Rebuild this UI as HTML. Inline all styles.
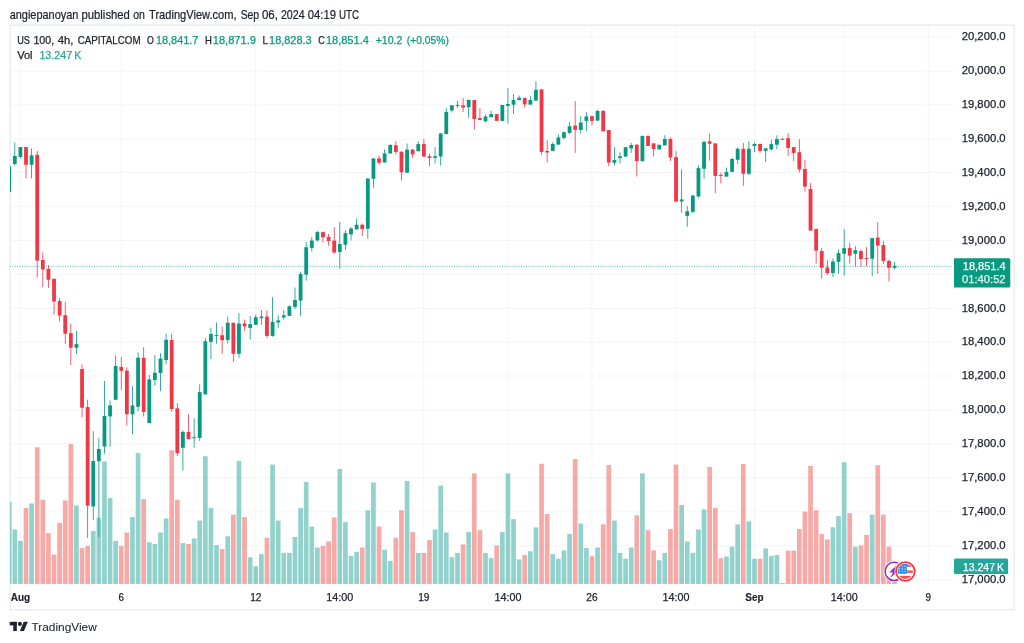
<!DOCTYPE html>
<html lang="en"><head><meta charset="utf-8"><title>US 100 chart - TradingView</title>
<style>html,body{margin:0;padding:0;background:#fff;}body{width:1024px;height:643px;overflow:hidden;font-family:"Liberation Sans", sans-serif;}svg{display:block;}text{font-family:"Liberation Sans", sans-serif;}</style>
</head><body>
<svg width="1024" height="643" viewBox="0 0 1024 643">
<rect x="0" y="0" width="1024" height="643" fill="#ffffff"/>
<text y="19.00" font-size="12.20"><tspan x="9.65" textLength="68.80" lengthAdjust="spacingAndGlyphs" fill="#20242f" stroke="#20242f" stroke-width="0.22">angiepanoyan</tspan> <tspan x="81.55" textLength="48.30" lengthAdjust="spacingAndGlyphs" fill="#20242f" stroke="#20242f" stroke-width="0.22">published</tspan> <tspan x="133.15" textLength="11.70" lengthAdjust="spacingAndGlyphs" fill="#20242f" stroke="#20242f" stroke-width="0.22">on</tspan> <tspan x="149.05" textLength="87.55" lengthAdjust="spacingAndGlyphs" fill="#20242f" stroke="#20242f" stroke-width="0.22">TradingView.com,</tspan> <tspan x="240.65" textLength="18.45" lengthAdjust="spacingAndGlyphs" fill="#20242f" stroke="#20242f" stroke-width="0.22">Sep</tspan> <tspan x="261.90" textLength="15.95" lengthAdjust="spacingAndGlyphs" fill="#20242f" stroke="#20242f" stroke-width="0.22">06,</tspan> <tspan x="280.90" textLength="23.85" lengthAdjust="spacingAndGlyphs" fill="#20242f" stroke="#20242f" stroke-width="0.22">2024</tspan> <tspan x="307.75" textLength="28.20" lengthAdjust="spacingAndGlyphs" fill="#20242f" stroke="#20242f" stroke-width="0.22">04:19</tspan> <tspan x="339.05" textLength="20.05" lengthAdjust="spacingAndGlyphs" fill="#20242f" stroke="#20242f" stroke-width="0.22">UTC</tspan></text>
<rect x="10.0" y="25.15" width="1004.1" height="584.75" fill="none" stroke="#E0E3EB" stroke-width="1"/>
<defs><clipPath id="pane"><rect x="10.0" y="26.0" width="943.2" height="558.2"/></clipPath></defs>
<g stroke="#F0F2F5" stroke-width="0.8" fill="none">
<line x1="10.0" y1="579.90" x2="953.2" y2="579.90"/>
<line x1="10.0" y1="545.80" x2="953.2" y2="545.80"/>
<line x1="10.0" y1="511.90" x2="953.2" y2="511.90"/>
<line x1="10.0" y1="477.70" x2="953.2" y2="477.70"/>
<line x1="10.0" y1="443.60" x2="953.2" y2="443.60"/>
<line x1="10.0" y1="410.00" x2="953.2" y2="410.00"/>
<line x1="10.0" y1="376.00" x2="953.2" y2="376.00"/>
<line x1="10.0" y1="342.10" x2="953.2" y2="342.10"/>
<line x1="10.0" y1="308.50" x2="953.2" y2="308.50"/>
<line x1="10.0" y1="274.30" x2="953.2" y2="274.30"/>
<line x1="10.0" y1="240.50" x2="953.2" y2="240.50"/>
<line x1="10.0" y1="206.30" x2="953.2" y2="206.30"/>
<line x1="10.0" y1="172.50" x2="953.2" y2="172.50"/>
<line x1="10.0" y1="139.10" x2="953.2" y2="139.10"/>
<line x1="10.0" y1="104.80" x2="953.2" y2="104.80"/>
<line x1="10.0" y1="71.20" x2="953.2" y2="71.20"/>
<line x1="10.0" y1="36.90" x2="953.2" y2="36.90"/>
<line x1="20.40" y1="26.0" x2="20.40" y2="584.2"/>
<line x1="121.27" y1="26.0" x2="121.27" y2="584.2"/>
<line x1="255.76" y1="26.0" x2="255.76" y2="584.2"/>
<line x1="339.81" y1="26.0" x2="339.81" y2="584.2"/>
<line x1="423.87" y1="26.0" x2="423.87" y2="584.2"/>
<line x1="507.93" y1="26.0" x2="507.93" y2="584.2"/>
<line x1="591.98" y1="26.0" x2="591.98" y2="584.2"/>
<line x1="676.04" y1="26.0" x2="676.04" y2="584.2"/>
<line x1="754.49" y1="26.0" x2="754.49" y2="584.2"/>
<line x1="844.15" y1="26.0" x2="844.15" y2="584.2"/>
<line x1="928.20" y1="26.0" x2="928.20" y2="584.2"/>
</g>
<g clip-path="url(#pane)">
<rect x="6.85" y="501.90" width="4.70" height="82.30" fill="rgba(38,166,154,0.5)"/>
<rect x="12.45" y="529.60" width="4.70" height="54.60" fill="rgba(38,166,154,0.5)"/>
<rect x="18.05" y="540.90" width="4.70" height="43.30" fill="rgba(38,166,154,0.5)"/>
<rect x="23.66" y="507.90" width="4.70" height="76.30" fill="rgba(239,83,80,0.5)"/>
<rect x="29.26" y="503.50" width="4.70" height="80.70" fill="rgba(38,166,154,0.5)"/>
<rect x="34.86" y="447.25" width="4.70" height="136.95" fill="rgba(239,83,80,0.5)"/>
<rect x="40.47" y="499.75" width="4.70" height="84.45" fill="rgba(239,83,80,0.5)"/>
<rect x="46.07" y="533.10" width="4.70" height="51.10" fill="rgba(239,83,80,0.5)"/>
<rect x="51.68" y="554.50" width="4.70" height="29.70" fill="rgba(239,83,80,0.5)"/>
<rect x="57.28" y="522.90" width="4.70" height="61.30" fill="rgba(239,83,80,0.5)"/>
<rect x="62.88" y="500.40" width="4.70" height="83.80" fill="rgba(239,83,80,0.5)"/>
<rect x="68.49" y="444.10" width="4.70" height="140.10" fill="rgba(239,83,80,0.5)"/>
<rect x="74.09" y="505.60" width="4.70" height="78.60" fill="rgba(38,166,154,0.5)"/>
<rect x="79.69" y="548.10" width="4.70" height="36.10" fill="rgba(239,83,80,0.5)"/>
<rect x="85.30" y="546.00" width="4.70" height="38.20" fill="rgba(239,83,80,0.5)"/>
<rect x="90.90" y="531.00" width="4.70" height="53.20" fill="rgba(38,166,154,0.5)"/>
<rect x="96.51" y="517.75" width="4.70" height="66.45" fill="rgba(38,166,154,0.5)"/>
<rect x="102.11" y="461.50" width="4.70" height="122.70" fill="rgba(38,166,154,0.5)"/>
<rect x="107.71" y="498.10" width="4.70" height="86.10" fill="rgba(38,166,154,0.5)"/>
<rect x="113.32" y="540.90" width="4.70" height="43.30" fill="rgba(38,166,154,0.5)"/>
<rect x="118.92" y="546.00" width="4.70" height="38.20" fill="rgba(239,83,80,0.5)"/>
<rect x="124.52" y="532.50" width="4.70" height="51.70" fill="rgba(239,83,80,0.5)"/>
<rect x="130.13" y="517.10" width="4.70" height="67.10" fill="rgba(38,166,154,0.5)"/>
<rect x="135.73" y="453.10" width="4.70" height="131.10" fill="rgba(38,166,154,0.5)"/>
<rect x="141.34" y="499.10" width="4.70" height="85.10" fill="rgba(239,83,80,0.5)"/>
<rect x="146.94" y="542.25" width="4.70" height="41.95" fill="rgba(38,166,154,0.5)"/>
<rect x="152.54" y="544.00" width="4.70" height="40.20" fill="rgba(38,166,154,0.5)"/>
<rect x="158.15" y="532.50" width="4.70" height="51.70" fill="rgba(38,166,154,0.5)"/>
<rect x="163.75" y="518.40" width="4.70" height="65.80" fill="rgba(38,166,154,0.5)"/>
<rect x="169.35" y="450.25" width="4.70" height="133.95" fill="rgba(239,83,80,0.5)"/>
<rect x="174.96" y="499.75" width="4.70" height="84.45" fill="rgba(239,83,80,0.5)"/>
<rect x="180.56" y="543.10" width="4.70" height="41.10" fill="rgba(38,166,154,0.5)"/>
<rect x="186.16" y="544.00" width="4.70" height="40.20" fill="rgba(239,83,80,0.5)"/>
<rect x="191.77" y="538.50" width="4.70" height="45.70" fill="rgba(38,166,154,0.5)"/>
<rect x="197.37" y="520.60" width="4.70" height="63.60" fill="rgba(38,166,154,0.5)"/>
<rect x="202.98" y="456.25" width="4.70" height="127.95" fill="rgba(38,166,154,0.5)"/>
<rect x="208.58" y="507.90" width="4.70" height="76.30" fill="rgba(38,166,154,0.5)"/>
<rect x="214.18" y="545.25" width="4.70" height="38.95" fill="rgba(38,166,154,0.5)"/>
<rect x="219.79" y="549.00" width="4.70" height="35.20" fill="rgba(239,83,80,0.5)"/>
<rect x="225.39" y="536.25" width="4.70" height="47.95" fill="rgba(38,166,154,0.5)"/>
<rect x="230.99" y="514.60" width="4.70" height="69.60" fill="rgba(239,83,80,0.5)"/>
<rect x="236.60" y="460.90" width="4.70" height="123.30" fill="rgba(38,166,154,0.5)"/>
<rect x="242.20" y="517.10" width="4.70" height="67.10" fill="rgba(239,83,80,0.5)"/>
<rect x="247.81" y="557.25" width="4.70" height="26.95" fill="rgba(38,166,154,0.5)"/>
<rect x="253.41" y="566.25" width="4.70" height="17.95" fill="rgba(38,166,154,0.5)"/>
<rect x="259.01" y="554.10" width="4.70" height="30.10" fill="rgba(38,166,154,0.5)"/>
<rect x="264.62" y="537.75" width="4.70" height="46.45" fill="rgba(239,83,80,0.5)"/>
<rect x="270.22" y="464.60" width="4.70" height="119.60" fill="rgba(38,166,154,0.5)"/>
<rect x="275.82" y="520.60" width="4.70" height="63.60" fill="rgba(38,166,154,0.5)"/>
<rect x="281.43" y="552.90" width="4.70" height="31.30" fill="rgba(38,166,154,0.5)"/>
<rect x="287.03" y="552.90" width="4.70" height="31.30" fill="rgba(38,166,154,0.5)"/>
<rect x="292.63" y="536.90" width="4.70" height="47.30" fill="rgba(38,166,154,0.5)"/>
<rect x="298.24" y="507.90" width="4.70" height="76.30" fill="rgba(38,166,154,0.5)"/>
<rect x="303.84" y="481.90" width="4.70" height="102.30" fill="rgba(38,166,154,0.5)"/>
<rect x="309.45" y="526.50" width="4.70" height="57.70" fill="rgba(38,166,154,0.5)"/>
<rect x="315.05" y="547.50" width="4.70" height="36.70" fill="rgba(38,166,154,0.5)"/>
<rect x="320.65" y="546.00" width="4.70" height="38.20" fill="rgba(239,83,80,0.5)"/>
<rect x="326.26" y="541.50" width="4.70" height="42.70" fill="rgba(239,83,80,0.5)"/>
<rect x="331.86" y="517.50" width="4.70" height="66.70" fill="rgba(239,83,80,0.5)"/>
<rect x="337.46" y="469.00" width="4.70" height="115.20" fill="rgba(38,166,154,0.5)"/>
<rect x="343.07" y="522.10" width="4.70" height="62.10" fill="rgba(38,166,154,0.5)"/>
<rect x="348.67" y="555.90" width="4.70" height="28.30" fill="rgba(38,166,154,0.5)"/>
<rect x="354.28" y="551.90" width="4.70" height="32.30" fill="rgba(38,166,154,0.5)"/>
<rect x="359.88" y="547.50" width="4.70" height="36.70" fill="rgba(239,83,80,0.5)"/>
<rect x="365.48" y="510.25" width="4.70" height="73.95" fill="rgba(38,166,154,0.5)"/>
<rect x="371.09" y="482.50" width="4.70" height="101.70" fill="rgba(38,166,154,0.5)"/>
<rect x="376.69" y="526.50" width="4.70" height="57.70" fill="rgba(239,83,80,0.5)"/>
<rect x="382.29" y="549.75" width="4.70" height="34.45" fill="rgba(38,166,154,0.5)"/>
<rect x="387.90" y="561.00" width="4.70" height="23.20" fill="rgba(38,166,154,0.5)"/>
<rect x="393.50" y="537.75" width="4.70" height="46.45" fill="rgba(239,83,80,0.5)"/>
<rect x="399.11" y="510.25" width="4.70" height="73.95" fill="rgba(239,83,80,0.5)"/>
<rect x="404.71" y="481.00" width="4.70" height="103.20" fill="rgba(38,166,154,0.5)"/>
<rect x="410.31" y="531.90" width="4.70" height="52.30" fill="rgba(239,83,80,0.5)"/>
<rect x="415.92" y="552.90" width="4.70" height="31.30" fill="rgba(38,166,154,0.5)"/>
<rect x="421.52" y="552.90" width="4.70" height="31.30" fill="rgba(239,83,80,0.5)"/>
<rect x="427.12" y="540.00" width="4.70" height="44.20" fill="rgba(239,83,80,0.5)"/>
<rect x="432.73" y="529.40" width="4.70" height="54.80" fill="rgba(38,166,154,0.5)"/>
<rect x="438.33" y="485.60" width="4.70" height="98.60" fill="rgba(38,166,154,0.5)"/>
<rect x="443.93" y="532.50" width="4.70" height="51.70" fill="rgba(38,166,154,0.5)"/>
<rect x="449.54" y="557.25" width="4.70" height="26.95" fill="rgba(38,166,154,0.5)"/>
<rect x="455.14" y="552.90" width="4.70" height="31.30" fill="rgba(38,166,154,0.5)"/>
<rect x="460.75" y="544.40" width="4.70" height="39.80" fill="rgba(239,83,80,0.5)"/>
<rect x="466.35" y="531.90" width="4.70" height="52.30" fill="rgba(38,166,154,0.5)"/>
<rect x="471.95" y="473.40" width="4.70" height="110.80" fill="rgba(239,83,80,0.5)"/>
<rect x="477.56" y="530.25" width="4.70" height="53.95" fill="rgba(239,83,80,0.5)"/>
<rect x="483.16" y="552.90" width="4.70" height="31.30" fill="rgba(38,166,154,0.5)"/>
<rect x="488.76" y="558.10" width="4.70" height="26.10" fill="rgba(38,166,154,0.5)"/>
<rect x="494.37" y="545.40" width="4.70" height="38.80" fill="rgba(239,83,80,0.5)"/>
<rect x="499.97" y="532.10" width="4.70" height="52.10" fill="rgba(38,166,154,0.5)"/>
<rect x="505.58" y="473.40" width="4.70" height="110.80" fill="rgba(38,166,154,0.5)"/>
<rect x="511.18" y="519.10" width="4.70" height="65.10" fill="rgba(38,166,154,0.5)"/>
<rect x="516.78" y="559.40" width="4.70" height="24.80" fill="rgba(38,166,154,0.5)"/>
<rect x="522.39" y="555.00" width="4.70" height="29.20" fill="rgba(239,83,80,0.5)"/>
<rect x="527.99" y="551.25" width="4.70" height="32.95" fill="rgba(38,166,154,0.5)"/>
<rect x="533.59" y="527.40" width="4.70" height="56.80" fill="rgba(38,166,154,0.5)"/>
<rect x="539.20" y="463.75" width="4.70" height="120.45" fill="rgba(239,83,80,0.5)"/>
<rect x="544.80" y="514.00" width="4.70" height="70.20" fill="rgba(239,83,80,0.5)"/>
<rect x="550.41" y="554.10" width="4.70" height="30.10" fill="rgba(38,166,154,0.5)"/>
<rect x="556.01" y="558.75" width="4.70" height="25.45" fill="rgba(38,166,154,0.5)"/>
<rect x="561.61" y="550.40" width="4.70" height="33.80" fill="rgba(38,166,154,0.5)"/>
<rect x="567.22" y="534.00" width="4.70" height="50.20" fill="rgba(38,166,154,0.5)"/>
<rect x="572.82" y="459.10" width="4.70" height="125.10" fill="rgba(239,83,80,0.5)"/>
<rect x="578.42" y="523.50" width="4.70" height="60.70" fill="rgba(38,166,154,0.5)"/>
<rect x="584.03" y="548.10" width="4.70" height="36.10" fill="rgba(38,166,154,0.5)"/>
<rect x="589.63" y="556.25" width="4.70" height="27.95" fill="rgba(239,83,80,0.5)"/>
<rect x="595.23" y="547.50" width="4.70" height="36.70" fill="rgba(38,166,154,0.5)"/>
<rect x="600.84" y="524.30" width="4.70" height="59.90" fill="rgba(239,83,80,0.5)"/>
<rect x="606.44" y="465.00" width="4.70" height="119.20" fill="rgba(239,83,80,0.5)"/>
<rect x="612.05" y="520.60" width="4.70" height="63.60" fill="rgba(38,166,154,0.5)"/>
<rect x="617.65" y="552.90" width="4.70" height="31.30" fill="rgba(38,166,154,0.5)"/>
<rect x="623.25" y="558.75" width="4.70" height="25.45" fill="rgba(38,166,154,0.5)"/>
<rect x="628.86" y="547.50" width="4.70" height="36.70" fill="rgba(38,166,154,0.5)"/>
<rect x="634.46" y="515.30" width="4.70" height="68.90" fill="rgba(239,83,80,0.5)"/>
<rect x="640.06" y="473.40" width="4.70" height="110.80" fill="rgba(38,166,154,0.5)"/>
<rect x="645.67" y="530.25" width="4.70" height="53.95" fill="rgba(239,83,80,0.5)"/>
<rect x="651.27" y="550.40" width="4.70" height="33.80" fill="rgba(239,83,80,0.5)"/>
<rect x="656.88" y="560.25" width="4.70" height="23.95" fill="rgba(38,166,154,0.5)"/>
<rect x="662.48" y="552.90" width="4.70" height="31.30" fill="rgba(38,166,154,0.5)"/>
<rect x="668.08" y="529.00" width="4.70" height="55.20" fill="rgba(239,83,80,0.5)"/>
<rect x="673.69" y="464.60" width="4.70" height="119.60" fill="rgba(239,83,80,0.5)"/>
<rect x="679.29" y="505.00" width="4.70" height="79.20" fill="rgba(38,166,154,0.5)"/>
<rect x="684.89" y="541.50" width="4.70" height="42.70" fill="rgba(38,166,154,0.5)"/>
<rect x="690.50" y="552.90" width="4.70" height="31.30" fill="rgba(38,166,154,0.5)"/>
<rect x="696.10" y="529.40" width="4.70" height="54.80" fill="rgba(38,166,154,0.5)"/>
<rect x="701.71" y="509.40" width="4.70" height="74.80" fill="rgba(38,166,154,0.5)"/>
<rect x="707.31" y="466.90" width="4.70" height="117.30" fill="rgba(239,83,80,0.5)"/>
<rect x="712.91" y="507.90" width="4.70" height="76.30" fill="rgba(239,83,80,0.5)"/>
<rect x="718.52" y="558.10" width="4.70" height="26.10" fill="rgba(239,83,80,0.5)"/>
<rect x="724.12" y="556.50" width="4.70" height="27.70" fill="rgba(38,166,154,0.5)"/>
<rect x="729.72" y="546.60" width="4.70" height="37.60" fill="rgba(38,166,154,0.5)"/>
<rect x="735.33" y="524.40" width="4.70" height="59.80" fill="rgba(38,166,154,0.5)"/>
<rect x="740.93" y="464.00" width="4.70" height="120.20" fill="rgba(239,83,80,0.5)"/>
<rect x="746.53" y="521.40" width="4.70" height="62.80" fill="rgba(38,166,154,0.5)"/>
<rect x="752.14" y="558.75" width="4.70" height="25.45" fill="rgba(38,166,154,0.5)"/>
<rect x="757.74" y="558.75" width="4.70" height="25.45" fill="rgba(239,83,80,0.5)"/>
<rect x="763.35" y="548.40" width="4.70" height="35.80" fill="rgba(38,166,154,0.5)"/>
<rect x="768.95" y="556.00" width="4.70" height="28.20" fill="rgba(38,166,154,0.5)"/>
<rect x="774.55" y="555.00" width="4.70" height="29.20" fill="rgba(38,166,154,0.5)"/>
<rect x="780.16" y="583.00" width="4.70" height="1.20" fill="rgba(239,83,80,0.5)"/>
<rect x="785.76" y="550.60" width="4.70" height="33.60" fill="rgba(239,83,80,0.5)"/>
<rect x="791.36" y="550.60" width="4.70" height="33.60" fill="rgba(239,83,80,0.5)"/>
<rect x="796.97" y="529.00" width="4.70" height="55.20" fill="rgba(239,83,80,0.5)"/>
<rect x="802.57" y="511.60" width="4.70" height="72.60" fill="rgba(239,83,80,0.5)"/>
<rect x="808.18" y="466.00" width="4.70" height="118.20" fill="rgba(239,83,80,0.5)"/>
<rect x="813.78" y="510.25" width="4.70" height="73.95" fill="rgba(239,83,80,0.5)"/>
<rect x="819.38" y="534.10" width="4.70" height="50.10" fill="rgba(239,83,80,0.5)"/>
<rect x="824.99" y="539.40" width="4.70" height="44.80" fill="rgba(239,83,80,0.5)"/>
<rect x="830.59" y="527.25" width="4.70" height="56.95" fill="rgba(38,166,154,0.5)"/>
<rect x="836.19" y="516.10" width="4.70" height="68.10" fill="rgba(38,166,154,0.5)"/>
<rect x="841.80" y="462.25" width="4.70" height="121.95" fill="rgba(38,166,154,0.5)"/>
<rect x="847.40" y="513.10" width="4.70" height="71.10" fill="rgba(239,83,80,0.5)"/>
<rect x="853.00" y="546.60" width="4.70" height="37.60" fill="rgba(38,166,154,0.5)"/>
<rect x="858.61" y="545.40" width="4.70" height="38.80" fill="rgba(239,83,80,0.5)"/>
<rect x="864.21" y="535.00" width="4.70" height="49.20" fill="rgba(239,83,80,0.5)"/>
<rect x="869.82" y="514.60" width="4.70" height="69.60" fill="rgba(38,166,154,0.5)"/>
<rect x="875.42" y="465.25" width="4.70" height="118.95" fill="rgba(239,83,80,0.5)"/>
<rect x="881.02" y="514.60" width="4.70" height="69.60" fill="rgba(239,83,80,0.5)"/>
<rect x="886.63" y="546.60" width="4.70" height="37.60" fill="rgba(239,83,80,0.5)"/>
<rect x="892.23" y="581.70" width="4.70" height="2.50" fill="rgba(38,166,154,0.5)"/>
</g>
<line x1="10.0" y1="266.35" x2="953.2" y2="266.35" stroke="#089981" stroke-width="0.8" stroke-dasharray="0.8 1.6"/>
<g clip-path="url(#pane)">
<rect x="8.80" y="166.20" width="0.80" height="25.80" fill="#089981"/>
<rect x="7.30" y="166.20" width="3.80" height="25.80" fill="#089981"/>
<rect x="14.40" y="142.50" width="0.80" height="23.10" fill="#089981"/>
<rect x="12.90" y="156.00" width="3.80" height="8.00" fill="#089981"/>
<rect x="20.00" y="147.10" width="0.80" height="11.40" fill="#089981"/>
<rect x="18.50" y="147.10" width="3.80" height="9.80" fill="#089981"/>
<rect x="25.61" y="147.10" width="0.80" height="31.00" fill="#F23645"/>
<rect x="24.11" y="147.10" width="3.80" height="17.65" fill="#F23645"/>
<rect x="31.21" y="148.50" width="0.80" height="30.00" fill="#089981"/>
<rect x="29.71" y="155.40" width="3.80" height="9.35" fill="#089981"/>
<rect x="36.81" y="151.00" width="0.80" height="126.50" fill="#F23645"/>
<rect x="35.31" y="154.75" width="3.80" height="105.85" fill="#F23645"/>
<rect x="42.42" y="252.50" width="0.80" height="34.75" fill="#F23645"/>
<rect x="40.92" y="260.00" width="3.80" height="9.40" fill="#F23645"/>
<rect x="48.02" y="265.00" width="0.80" height="22.90" fill="#F23645"/>
<rect x="46.52" y="268.75" width="3.80" height="11.00" fill="#F23645"/>
<rect x="53.63" y="278.75" width="0.80" height="36.00" fill="#F23645"/>
<rect x="52.13" y="278.75" width="3.80" height="22.75" fill="#F23645"/>
<rect x="59.23" y="298.10" width="0.80" height="23.40" fill="#F23645"/>
<rect x="57.73" y="301.00" width="3.80" height="14.60" fill="#F23645"/>
<rect x="64.83" y="301.90" width="0.80" height="41.85" fill="#F23645"/>
<rect x="63.33" y="315.25" width="3.80" height="18.50" fill="#F23645"/>
<rect x="70.44" y="323.50" width="0.80" height="41.50" fill="#F23645"/>
<rect x="68.94" y="333.10" width="3.80" height="14.65" fill="#F23645"/>
<rect x="76.04" y="330.90" width="0.80" height="22.85" fill="#089981"/>
<rect x="74.54" y="344.10" width="3.80" height="3.65" fill="#089981"/>
<rect x="81.64" y="364.40" width="0.80" height="52.85" fill="#F23645"/>
<rect x="80.14" y="369.00" width="3.80" height="38.75" fill="#F23645"/>
<rect x="87.25" y="399.60" width="0.80" height="138.50" fill="#F23645"/>
<rect x="85.75" y="407.10" width="3.80" height="98.50" fill="#F23645"/>
<rect x="92.85" y="431.25" width="0.80" height="89.00" fill="#089981"/>
<rect x="91.35" y="461.00" width="3.80" height="45.50" fill="#089981"/>
<rect x="98.46" y="437.75" width="0.80" height="99.15" fill="#089981"/>
<rect x="96.96" y="449.00" width="3.80" height="12.25" fill="#089981"/>
<rect x="104.06" y="381.00" width="0.80" height="72.75" fill="#089981"/>
<rect x="102.56" y="415.90" width="3.80" height="30.60" fill="#089981"/>
<rect x="109.66" y="400.25" width="0.80" height="46.85" fill="#089981"/>
<rect x="108.16" y="405.40" width="3.80" height="11.00" fill="#089981"/>
<rect x="115.27" y="355.25" width="0.80" height="44.50" fill="#089981"/>
<rect x="113.77" y="366.00" width="3.80" height="33.75" fill="#089981"/>
<rect x="120.87" y="356.90" width="0.80" height="32.85" fill="#F23645"/>
<rect x="119.37" y="366.90" width="3.80" height="4.00" fill="#F23645"/>
<rect x="126.47" y="367.25" width="0.80" height="58.35" fill="#F23645"/>
<rect x="124.97" y="370.60" width="3.80" height="43.60" fill="#F23645"/>
<rect x="132.08" y="386.25" width="0.80" height="48.15" fill="#089981"/>
<rect x="130.58" y="405.40" width="3.80" height="9.00" fill="#089981"/>
<rect x="137.68" y="352.50" width="0.80" height="58.75" fill="#089981"/>
<rect x="136.18" y="357.75" width="3.80" height="48.95" fill="#089981"/>
<rect x="143.29" y="347.25" width="0.80" height="69.25" fill="#F23645"/>
<rect x="141.79" y="357.75" width="3.80" height="54.15" fill="#F23645"/>
<rect x="148.89" y="375.00" width="0.80" height="48.10" fill="#089981"/>
<rect x="147.39" y="379.40" width="3.80" height="43.70" fill="#089981"/>
<rect x="154.49" y="355.00" width="0.80" height="31.00" fill="#089981"/>
<rect x="152.99" y="372.75" width="3.80" height="7.25" fill="#089981"/>
<rect x="160.10" y="353.10" width="0.80" height="38.15" fill="#089981"/>
<rect x="158.60" y="358.50" width="3.80" height="14.60" fill="#089981"/>
<rect x="165.70" y="333.75" width="0.80" height="30.65" fill="#089981"/>
<rect x="164.20" y="339.75" width="3.80" height="20.25" fill="#089981"/>
<rect x="171.30" y="333.75" width="0.80" height="78.15" fill="#F23645"/>
<rect x="169.80" y="340.00" width="3.80" height="69.00" fill="#F23645"/>
<rect x="176.91" y="403.30" width="0.80" height="52.70" fill="#F23645"/>
<rect x="175.41" y="408.30" width="3.80" height="44.80" fill="#F23645"/>
<rect x="182.51" y="430.25" width="0.80" height="40.35" fill="#089981"/>
<rect x="181.01" y="431.90" width="3.80" height="15.85" fill="#089981"/>
<rect x="188.11" y="414.40" width="0.80" height="25.10" fill="#F23645"/>
<rect x="186.61" y="431.90" width="3.80" height="7.20" fill="#F23645"/>
<rect x="193.72" y="418.40" width="0.80" height="29.35" fill="#089981"/>
<rect x="192.22" y="437.20" width="3.80" height="1.00" fill="#089981"/>
<rect x="199.32" y="384.40" width="0.80" height="56.60" fill="#089981"/>
<rect x="197.82" y="392.10" width="3.80" height="45.80" fill="#089981"/>
<rect x="204.93" y="338.10" width="0.80" height="56.30" fill="#089981"/>
<rect x="203.43" y="341.25" width="3.80" height="53.15" fill="#089981"/>
<rect x="210.53" y="327.75" width="0.80" height="31.25" fill="#089981"/>
<rect x="209.03" y="334.00" width="3.80" height="7.90" fill="#089981"/>
<rect x="216.13" y="322.50" width="0.80" height="21.25" fill="#089981"/>
<rect x="214.63" y="334.90" width="3.80" height="1.00" fill="#089981"/>
<rect x="221.74" y="326.50" width="0.80" height="27.25" fill="#F23645"/>
<rect x="220.24" y="335.25" width="3.80" height="5.00" fill="#F23645"/>
<rect x="227.34" y="316.50" width="0.80" height="27.00" fill="#089981"/>
<rect x="225.84" y="322.75" width="3.80" height="17.35" fill="#089981"/>
<rect x="232.94" y="322.75" width="0.80" height="39.35" fill="#F23645"/>
<rect x="231.44" y="322.75" width="3.80" height="31.00" fill="#F23645"/>
<rect x="238.55" y="313.10" width="0.80" height="44.65" fill="#089981"/>
<rect x="237.05" y="323.50" width="3.80" height="30.25" fill="#089981"/>
<rect x="244.15" y="319.60" width="0.80" height="11.30" fill="#F23645"/>
<rect x="242.65" y="323.50" width="3.80" height="2.75" fill="#F23645"/>
<rect x="249.76" y="316.00" width="0.80" height="23.60" fill="#089981"/>
<rect x="248.26" y="324.10" width="3.80" height="3.80" fill="#089981"/>
<rect x="255.36" y="314.40" width="0.80" height="10.35" fill="#089981"/>
<rect x="253.86" y="317.25" width="3.80" height="7.50" fill="#089981"/>
<rect x="260.96" y="310.00" width="0.80" height="14.75" fill="#089981"/>
<rect x="259.46" y="316.50" width="3.80" height="1.60" fill="#089981"/>
<rect x="266.57" y="310.25" width="0.80" height="27.85" fill="#F23645"/>
<rect x="265.07" y="316.60" width="3.80" height="19.30" fill="#F23645"/>
<rect x="272.17" y="297.10" width="0.80" height="39.50" fill="#089981"/>
<rect x="270.67" y="321.90" width="3.80" height="14.00" fill="#089981"/>
<rect x="277.77" y="315.25" width="0.80" height="12.50" fill="#089981"/>
<rect x="276.27" y="320.40" width="3.80" height="2.10" fill="#089981"/>
<rect x="283.38" y="310.00" width="0.80" height="9.60" fill="#089981"/>
<rect x="281.88" y="315.25" width="3.80" height="2.25" fill="#089981"/>
<rect x="288.98" y="305.40" width="0.80" height="10.50" fill="#089981"/>
<rect x="287.48" y="306.25" width="3.80" height="9.65" fill="#089981"/>
<rect x="294.59" y="287.50" width="0.80" height="21.50" fill="#089981"/>
<rect x="293.09" y="300.00" width="3.80" height="6.90" fill="#089981"/>
<rect x="300.19" y="271.90" width="0.80" height="44.00" fill="#089981"/>
<rect x="298.69" y="274.00" width="3.80" height="26.60" fill="#089981"/>
<rect x="305.79" y="242.10" width="0.80" height="38.50" fill="#089981"/>
<rect x="304.29" y="247.25" width="3.80" height="27.35" fill="#089981"/>
<rect x="311.40" y="236.90" width="0.80" height="14.60" fill="#089981"/>
<rect x="309.90" y="240.60" width="3.80" height="7.30" fill="#089981"/>
<rect x="317.00" y="230.90" width="0.80" height="10.70" fill="#089981"/>
<rect x="315.50" y="232.10" width="3.80" height="8.30" fill="#089981"/>
<rect x="322.60" y="231.50" width="0.80" height="11.00" fill="#F23645"/>
<rect x="321.10" y="232.10" width="3.80" height="5.15" fill="#F23645"/>
<rect x="328.21" y="234.00" width="0.80" height="11.60" fill="#F23645"/>
<rect x="326.71" y="236.90" width="3.80" height="4.10" fill="#F23645"/>
<rect x="333.81" y="227.10" width="0.80" height="26.65" fill="#F23645"/>
<rect x="332.31" y="240.60" width="3.80" height="11.90" fill="#F23645"/>
<rect x="339.41" y="221.90" width="0.80" height="46.85" fill="#089981"/>
<rect x="337.91" y="244.10" width="3.80" height="7.80" fill="#089981"/>
<rect x="345.02" y="230.00" width="0.80" height="20.00" fill="#089981"/>
<rect x="343.52" y="233.10" width="3.80" height="11.65" fill="#089981"/>
<rect x="350.62" y="227.10" width="0.80" height="13.30" fill="#089981"/>
<rect x="349.12" y="228.50" width="3.80" height="5.90" fill="#089981"/>
<rect x="356.23" y="218.75" width="0.80" height="10.65" fill="#089981"/>
<rect x="354.73" y="224.75" width="3.80" height="4.65" fill="#089981"/>
<rect x="361.83" y="223.40" width="0.80" height="12.50" fill="#F23645"/>
<rect x="360.33" y="224.75" width="3.80" height="4.25" fill="#F23645"/>
<rect x="367.43" y="178.50" width="0.80" height="60.25" fill="#089981"/>
<rect x="365.93" y="178.50" width="3.80" height="50.25" fill="#089981"/>
<rect x="373.04" y="158.40" width="0.80" height="29.35" fill="#089981"/>
<rect x="371.54" y="158.40" width="3.80" height="20.35" fill="#089981"/>
<rect x="378.64" y="155.60" width="0.80" height="9.00" fill="#F23645"/>
<rect x="377.14" y="158.40" width="3.80" height="4.35" fill="#F23645"/>
<rect x="384.24" y="149.40" width="0.80" height="13.10" fill="#089981"/>
<rect x="382.74" y="153.40" width="3.80" height="9.10" fill="#089981"/>
<rect x="389.85" y="144.10" width="0.80" height="9.40" fill="#089981"/>
<rect x="388.35" y="145.00" width="3.80" height="8.50" fill="#089981"/>
<rect x="395.45" y="141.00" width="0.80" height="13.60" fill="#F23645"/>
<rect x="393.95" y="145.25" width="3.80" height="6.65" fill="#F23645"/>
<rect x="401.06" y="151.60" width="0.80" height="29.00" fill="#F23645"/>
<rect x="399.56" y="151.60" width="3.80" height="20.65" fill="#F23645"/>
<rect x="406.66" y="143.50" width="0.80" height="29.25" fill="#089981"/>
<rect x="405.16" y="149.60" width="3.80" height="23.15" fill="#089981"/>
<rect x="412.26" y="149.00" width="0.80" height="9.10" fill="#F23645"/>
<rect x="410.76" y="149.60" width="3.80" height="4.80" fill="#F23645"/>
<rect x="417.87" y="141.25" width="0.80" height="10.00" fill="#089981"/>
<rect x="416.37" y="144.10" width="3.80" height="7.15" fill="#089981"/>
<rect x="423.47" y="139.10" width="0.80" height="17.50" fill="#F23645"/>
<rect x="421.97" y="144.10" width="3.80" height="12.50" fill="#F23645"/>
<rect x="429.07" y="153.40" width="0.80" height="12.85" fill="#F23645"/>
<rect x="427.57" y="156.25" width="3.80" height="1.65" fill="#F23645"/>
<rect x="434.68" y="147.25" width="0.80" height="16.25" fill="#089981"/>
<rect x="433.18" y="156.25" width="3.80" height="1.65" fill="#089981"/>
<rect x="440.28" y="133.00" width="0.80" height="32.40" fill="#089981"/>
<rect x="438.78" y="133.50" width="3.80" height="23.00" fill="#089981"/>
<rect x="445.88" y="108.10" width="0.80" height="26.00" fill="#089981"/>
<rect x="444.38" y="111.90" width="3.80" height="22.20" fill="#089981"/>
<rect x="451.49" y="105.25" width="0.80" height="7.25" fill="#089981"/>
<rect x="449.99" y="105.25" width="3.80" height="5.15" fill="#089981"/>
<rect x="457.09" y="100.90" width="0.80" height="7.20" fill="#089981"/>
<rect x="455.59" y="104.90" width="3.80" height="1.00" fill="#089981"/>
<rect x="462.70" y="97.90" width="0.80" height="14.00" fill="#F23645"/>
<rect x="461.20" y="105.40" width="3.80" height="2.10" fill="#F23645"/>
<rect x="468.30" y="99.40" width="0.80" height="18.50" fill="#089981"/>
<rect x="466.80" y="100.00" width="3.80" height="7.25" fill="#089981"/>
<rect x="473.90" y="100.00" width="0.80" height="29.75" fill="#F23645"/>
<rect x="472.40" y="100.00" width="3.80" height="19.00" fill="#F23645"/>
<rect x="479.51" y="108.10" width="0.80" height="11.90" fill="#F23645"/>
<rect x="478.01" y="118.10" width="3.80" height="1.90" fill="#F23645"/>
<rect x="485.11" y="114.40" width="0.80" height="8.10" fill="#089981"/>
<rect x="483.61" y="116.50" width="3.80" height="4.75" fill="#089981"/>
<rect x="490.71" y="110.60" width="0.80" height="6.65" fill="#089981"/>
<rect x="489.21" y="114.10" width="3.80" height="3.15" fill="#089981"/>
<rect x="496.32" y="114.10" width="0.80" height="6.80" fill="#F23645"/>
<rect x="494.82" y="114.10" width="3.80" height="6.80" fill="#F23645"/>
<rect x="501.92" y="105.00" width="0.80" height="15.90" fill="#089981"/>
<rect x="500.42" y="105.00" width="3.80" height="15.90" fill="#089981"/>
<rect x="507.53" y="88.10" width="0.80" height="35.65" fill="#089981"/>
<rect x="506.03" y="104.00" width="3.80" height="1.90" fill="#089981"/>
<rect x="513.13" y="94.00" width="0.80" height="20.10" fill="#089981"/>
<rect x="511.63" y="100.00" width="3.80" height="4.75" fill="#089981"/>
<rect x="518.73" y="95.60" width="0.80" height="5.00" fill="#089981"/>
<rect x="517.23" y="97.75" width="3.80" height="2.25" fill="#089981"/>
<rect x="524.34" y="97.90" width="0.80" height="9.60" fill="#F23645"/>
<rect x="522.84" y="97.90" width="3.80" height="6.50" fill="#F23645"/>
<rect x="529.94" y="96.25" width="0.80" height="8.35" fill="#089981"/>
<rect x="528.44" y="100.00" width="3.80" height="4.60" fill="#089981"/>
<rect x="535.54" y="81.25" width="0.80" height="19.35" fill="#089981"/>
<rect x="534.04" y="89.75" width="3.80" height="10.85" fill="#089981"/>
<rect x="541.15" y="89.40" width="0.80" height="65.60" fill="#F23645"/>
<rect x="539.65" y="89.40" width="3.80" height="62.50" fill="#F23645"/>
<rect x="546.75" y="140.25" width="0.80" height="22.25" fill="#F23645"/>
<rect x="545.25" y="151.00" width="3.80" height="1.50" fill="#F23645"/>
<rect x="552.36" y="142.25" width="0.80" height="8.65" fill="#089981"/>
<rect x="550.86" y="144.00" width="3.80" height="6.90" fill="#089981"/>
<rect x="557.96" y="134.40" width="0.80" height="10.20" fill="#089981"/>
<rect x="556.46" y="137.50" width="3.80" height="7.10" fill="#089981"/>
<rect x="563.56" y="131.50" width="0.80" height="7.90" fill="#089981"/>
<rect x="562.06" y="132.25" width="3.80" height="5.65" fill="#089981"/>
<rect x="569.17" y="121.90" width="0.80" height="11.85" fill="#089981"/>
<rect x="567.67" y="126.25" width="3.80" height="6.65" fill="#089981"/>
<rect x="574.77" y="101.00" width="0.80" height="51.90" fill="#F23645"/>
<rect x="573.27" y="125.60" width="3.80" height="4.15" fill="#F23645"/>
<rect x="580.37" y="115.90" width="0.80" height="17.60" fill="#089981"/>
<rect x="578.87" y="122.50" width="3.80" height="7.50" fill="#089981"/>
<rect x="585.98" y="112.25" width="0.80" height="19.00" fill="#089981"/>
<rect x="584.48" y="116.50" width="3.80" height="4.40" fill="#089981"/>
<rect x="591.58" y="115.50" width="0.80" height="9.90" fill="#F23645"/>
<rect x="590.08" y="116.25" width="3.80" height="4.65" fill="#F23645"/>
<rect x="597.18" y="109.75" width="0.80" height="10.85" fill="#089981"/>
<rect x="595.68" y="111.00" width="3.80" height="9.60" fill="#089981"/>
<rect x="602.79" y="110.00" width="0.80" height="21.25" fill="#F23645"/>
<rect x="601.29" y="111.00" width="3.80" height="20.25" fill="#F23645"/>
<rect x="608.39" y="130.00" width="0.80" height="36.25" fill="#F23645"/>
<rect x="606.89" y="130.00" width="3.80" height="32.50" fill="#F23645"/>
<rect x="614.00" y="147.25" width="0.80" height="18.35" fill="#089981"/>
<rect x="612.50" y="160.00" width="3.80" height="2.75" fill="#089981"/>
<rect x="619.60" y="151.90" width="0.80" height="11.60" fill="#089981"/>
<rect x="618.10" y="156.25" width="3.80" height="1.85" fill="#089981"/>
<rect x="625.20" y="147.25" width="0.80" height="9.35" fill="#089981"/>
<rect x="623.70" y="147.25" width="3.80" height="9.35" fill="#089981"/>
<rect x="630.81" y="142.75" width="0.80" height="10.15" fill="#089981"/>
<rect x="629.31" y="145.00" width="3.80" height="3.40" fill="#089981"/>
<rect x="636.41" y="144.00" width="0.80" height="32.50" fill="#F23645"/>
<rect x="634.91" y="144.75" width="3.80" height="16.25" fill="#F23645"/>
<rect x="642.01" y="135.90" width="0.80" height="25.35" fill="#089981"/>
<rect x="640.51" y="135.90" width="3.80" height="25.35" fill="#089981"/>
<rect x="647.62" y="135.40" width="0.80" height="10.60" fill="#F23645"/>
<rect x="646.12" y="135.90" width="3.80" height="10.10" fill="#F23645"/>
<rect x="653.22" y="142.90" width="0.80" height="13.60" fill="#F23645"/>
<rect x="651.72" y="143.40" width="3.80" height="5.60" fill="#F23645"/>
<rect x="658.83" y="144.75" width="0.80" height="4.65" fill="#089981"/>
<rect x="657.33" y="144.75" width="3.80" height="4.65" fill="#089981"/>
<rect x="664.43" y="135.25" width="0.80" height="10.15" fill="#089981"/>
<rect x="662.93" y="139.00" width="3.80" height="6.40" fill="#089981"/>
<rect x="670.03" y="137.50" width="0.80" height="23.50" fill="#F23645"/>
<rect x="668.53" y="139.00" width="3.80" height="18.50" fill="#F23645"/>
<rect x="675.64" y="151.00" width="0.80" height="51.50" fill="#F23645"/>
<rect x="674.14" y="157.10" width="3.80" height="44.40" fill="#F23645"/>
<rect x="681.24" y="169.40" width="0.80" height="43.35" fill="#089981"/>
<rect x="679.74" y="199.40" width="3.80" height="2.10" fill="#089981"/>
<rect x="686.84" y="206.25" width="0.80" height="20.65" fill="#089981"/>
<rect x="685.34" y="211.25" width="3.80" height="4.65" fill="#089981"/>
<rect x="692.45" y="194.75" width="0.80" height="18.35" fill="#089981"/>
<rect x="690.95" y="195.60" width="3.80" height="16.30" fill="#089981"/>
<rect x="698.05" y="165.25" width="0.80" height="32.25" fill="#089981"/>
<rect x="696.55" y="168.10" width="3.80" height="28.40" fill="#089981"/>
<rect x="703.66" y="140.60" width="0.80" height="38.15" fill="#089981"/>
<rect x="702.16" y="141.90" width="3.80" height="26.85" fill="#089981"/>
<rect x="709.26" y="133.75" width="0.80" height="26.85" fill="#F23645"/>
<rect x="707.76" y="141.25" width="3.80" height="2.50" fill="#F23645"/>
<rect x="714.86" y="143.40" width="0.80" height="49.70" fill="#F23645"/>
<rect x="713.36" y="143.40" width="3.80" height="32.50" fill="#F23645"/>
<rect x="720.47" y="172.50" width="0.80" height="11.00" fill="#F23645"/>
<rect x="718.97" y="174.90" width="3.80" height="1.00" fill="#F23645"/>
<rect x="726.07" y="167.50" width="0.80" height="9.10" fill="#089981"/>
<rect x="724.57" y="171.90" width="3.80" height="4.70" fill="#089981"/>
<rect x="731.67" y="157.75" width="0.80" height="14.15" fill="#089981"/>
<rect x="730.17" y="159.00" width="3.80" height="12.90" fill="#089981"/>
<rect x="737.28" y="147.50" width="0.80" height="16.50" fill="#089981"/>
<rect x="735.78" y="148.75" width="3.80" height="11.00" fill="#089981"/>
<rect x="742.88" y="142.90" width="0.80" height="43.00" fill="#F23645"/>
<rect x="741.38" y="148.75" width="3.80" height="25.00" fill="#F23645"/>
<rect x="748.48" y="141.25" width="0.80" height="33.75" fill="#089981"/>
<rect x="746.98" y="148.75" width="3.80" height="25.00" fill="#089981"/>
<rect x="754.09" y="142.50" width="0.80" height="9.60" fill="#089981"/>
<rect x="752.59" y="144.00" width="3.80" height="2.00" fill="#089981"/>
<rect x="759.69" y="143.50" width="0.80" height="9.25" fill="#F23645"/>
<rect x="758.19" y="144.00" width="3.80" height="6.90" fill="#F23645"/>
<rect x="765.30" y="148.00" width="0.80" height="13.90" fill="#089981"/>
<rect x="763.80" y="148.40" width="3.80" height="2.50" fill="#089981"/>
<rect x="770.90" y="139.60" width="0.80" height="11.00" fill="#089981"/>
<rect x="769.40" y="144.10" width="3.80" height="5.30" fill="#089981"/>
<rect x="776.50" y="135.25" width="0.80" height="13.85" fill="#089981"/>
<rect x="775.00" y="139.00" width="3.80" height="5.75" fill="#089981"/>
<rect x="782.11" y="138.10" width="0.80" height="1.80" fill="#F23645"/>
<rect x="780.61" y="138.90" width="3.80" height="1.00" fill="#F23645"/>
<rect x="787.71" y="133.10" width="0.80" height="22.80" fill="#F23645"/>
<rect x="786.21" y="138.10" width="3.80" height="9.80" fill="#F23645"/>
<rect x="793.31" y="147.10" width="0.80" height="13.90" fill="#F23645"/>
<rect x="791.81" y="147.10" width="3.80" height="5.80" fill="#F23645"/>
<rect x="798.92" y="139.00" width="0.80" height="33.50" fill="#F23645"/>
<rect x="797.42" y="152.25" width="3.80" height="17.15" fill="#F23645"/>
<rect x="804.52" y="160.00" width="0.80" height="31.60" fill="#F23645"/>
<rect x="803.02" y="169.00" width="3.80" height="17.60" fill="#F23645"/>
<rect x="810.13" y="183.10" width="0.80" height="47.50" fill="#F23645"/>
<rect x="808.63" y="189.00" width="3.80" height="41.60" fill="#F23645"/>
<rect x="815.73" y="228.50" width="0.80" height="35.00" fill="#F23645"/>
<rect x="814.23" y="229.10" width="3.80" height="21.50" fill="#F23645"/>
<rect x="821.33" y="248.10" width="0.80" height="30.40" fill="#F23645"/>
<rect x="819.83" y="251.00" width="3.80" height="16.75" fill="#F23645"/>
<rect x="826.94" y="260.00" width="0.80" height="15.00" fill="#F23645"/>
<rect x="825.44" y="267.50" width="3.80" height="5.60" fill="#F23645"/>
<rect x="832.54" y="258.50" width="0.80" height="18.40" fill="#089981"/>
<rect x="831.04" y="261.50" width="3.80" height="11.60" fill="#089981"/>
<rect x="838.14" y="249.40" width="0.80" height="24.35" fill="#089981"/>
<rect x="836.64" y="253.10" width="3.80" height="8.80" fill="#089981"/>
<rect x="843.75" y="229.10" width="0.80" height="46.50" fill="#089981"/>
<rect x="842.25" y="248.10" width="3.80" height="5.65" fill="#089981"/>
<rect x="849.35" y="242.75" width="0.80" height="20.75" fill="#F23645"/>
<rect x="847.85" y="248.10" width="3.80" height="7.50" fill="#F23645"/>
<rect x="854.95" y="246.25" width="0.80" height="20.35" fill="#089981"/>
<rect x="853.45" y="250.25" width="3.80" height="3.50" fill="#089981"/>
<rect x="860.56" y="249.40" width="0.80" height="17.50" fill="#F23645"/>
<rect x="859.06" y="251.00" width="3.80" height="8.00" fill="#F23645"/>
<rect x="866.16" y="247.25" width="0.80" height="19.25" fill="#F23645"/>
<rect x="864.66" y="258.00" width="3.80" height="1.00" fill="#F23645"/>
<rect x="871.77" y="238.10" width="0.80" height="37.90" fill="#089981"/>
<rect x="870.27" y="238.10" width="3.80" height="20.65" fill="#089981"/>
<rect x="877.37" y="221.90" width="0.80" height="51.85" fill="#F23645"/>
<rect x="875.87" y="237.50" width="3.80" height="8.10" fill="#F23645"/>
<rect x="882.97" y="240.60" width="0.80" height="23.15" fill="#F23645"/>
<rect x="881.47" y="245.00" width="3.80" height="15.90" fill="#F23645"/>
<rect x="888.58" y="259.60" width="0.80" height="21.90" fill="#F23645"/>
<rect x="887.08" y="260.90" width="3.80" height="6.85" fill="#F23645"/>
<rect x="894.18" y="261.90" width="0.80" height="7.60" fill="#089981"/>
<rect x="892.68" y="265.90" width="3.80" height="1.90" fill="#089981"/>
</g>
<text y="44.00" font-size="10.80"><tspan x="17.15" textLength="12.70" lengthAdjust="spacingAndGlyphs" fill="#20242f" stroke="#20242f" stroke-width="0.25">US</tspan> <tspan x="33.40" textLength="20.70" lengthAdjust="spacingAndGlyphs" fill="#20242f" stroke="#20242f" stroke-width="0.25">100,</tspan> <tspan x="57.65" textLength="15.70" lengthAdjust="spacingAndGlyphs" fill="#20242f" stroke="#20242f" stroke-width="0.25">4h,</tspan> <tspan x="77.65" textLength="62.95" lengthAdjust="spacingAndGlyphs" fill="#20242f" stroke="#20242f" stroke-width="0.25">CAPITALCOM</tspan> <tspan x="147.05" textLength="6.80" lengthAdjust="spacingAndGlyphs" fill="#20242f" stroke="#20242f" stroke-width="0.25">O</tspan> <tspan x="155.90" textLength="42.55" lengthAdjust="spacingAndGlyphs" fill="#089981" stroke="#089981" stroke-width="0.25">18,841.7</tspan> <tspan x="204.95" textLength="6.90" lengthAdjust="spacingAndGlyphs" fill="#20242f" stroke="#20242f" stroke-width="0.25">H</tspan> <tspan x="212.75" textLength="43.20" lengthAdjust="spacingAndGlyphs" fill="#089981" stroke="#089981" stroke-width="0.25">18,871.9</tspan> <tspan x="262.55" textLength="5.10" lengthAdjust="spacingAndGlyphs" fill="#20242f" stroke="#20242f" stroke-width="0.25">L</tspan> <tspan x="269.05" textLength="42.55" lengthAdjust="spacingAndGlyphs" fill="#089981" stroke="#089981" stroke-width="0.25">18,828.3</tspan> <tspan x="318.15" textLength="6.50" lengthAdjust="spacingAndGlyphs" fill="#20242f" stroke="#20242f" stroke-width="0.25">C</tspan> <tspan x="325.90" textLength="42.95" lengthAdjust="spacingAndGlyphs" fill="#089981" stroke="#089981" stroke-width="0.25">18,851.4</tspan> <tspan x="375.65" textLength="26.80" lengthAdjust="spacingAndGlyphs" fill="#089981" stroke="#089981" stroke-width="0.25">+10.2</tspan> <tspan x="406.75" textLength="42.10" lengthAdjust="spacingAndGlyphs" fill="#089981" stroke="#089981" stroke-width="0.25">(+0.05%)</tspan></text>
<text y="59.00" font-size="10.80"><tspan x="17.15" textLength="15.45" lengthAdjust="spacingAndGlyphs" fill="#20242f" stroke="#20242f" stroke-width="0.25">Vol</tspan> <tspan x="39.40" textLength="41.95" lengthAdjust="spacingAndGlyphs" fill="#26A69A" stroke="#26A69A" stroke-width="0.25">13.247&#8201;K</tspan></text>
<text x="961.70" y="583.10" font-size="11.30" fill="#20242f" stroke="#20242f" stroke-width="0.25" textLength="43.90" lengthAdjust="spacingAndGlyphs">17,000.0</text>
<text x="961.70" y="549.00" font-size="11.30" fill="#20242f" stroke="#20242f" stroke-width="0.25" textLength="43.90" lengthAdjust="spacingAndGlyphs">17,200.0</text>
<text x="961.70" y="515.10" font-size="11.30" fill="#20242f" stroke="#20242f" stroke-width="0.25" textLength="43.90" lengthAdjust="spacingAndGlyphs">17,400.0</text>
<text x="961.70" y="480.90" font-size="11.30" fill="#20242f" stroke="#20242f" stroke-width="0.25" textLength="43.90" lengthAdjust="spacingAndGlyphs">17,600.0</text>
<text x="961.70" y="446.80" font-size="11.30" fill="#20242f" stroke="#20242f" stroke-width="0.25" textLength="43.90" lengthAdjust="spacingAndGlyphs">17,800.0</text>
<text x="961.70" y="413.20" font-size="11.30" fill="#20242f" stroke="#20242f" stroke-width="0.25" textLength="43.90" lengthAdjust="spacingAndGlyphs">18,000.0</text>
<text x="961.70" y="379.20" font-size="11.30" fill="#20242f" stroke="#20242f" stroke-width="0.25" textLength="43.90" lengthAdjust="spacingAndGlyphs">18,200.0</text>
<text x="961.70" y="345.30" font-size="11.30" fill="#20242f" stroke="#20242f" stroke-width="0.25" textLength="43.90" lengthAdjust="spacingAndGlyphs">18,400.0</text>
<text x="961.70" y="311.70" font-size="11.30" fill="#20242f" stroke="#20242f" stroke-width="0.25" textLength="43.90" lengthAdjust="spacingAndGlyphs">18,600.0</text>
<text x="961.70" y="277.50" font-size="11.30" fill="#20242f" stroke="#20242f" stroke-width="0.25" textLength="43.90" lengthAdjust="spacingAndGlyphs">18,800.0</text>
<text x="961.70" y="243.70" font-size="11.30" fill="#20242f" stroke="#20242f" stroke-width="0.25" textLength="43.90" lengthAdjust="spacingAndGlyphs">19,000.0</text>
<text x="961.70" y="209.50" font-size="11.30" fill="#20242f" stroke="#20242f" stroke-width="0.25" textLength="43.90" lengthAdjust="spacingAndGlyphs">19,200.0</text>
<text x="961.70" y="175.70" font-size="11.30" fill="#20242f" stroke="#20242f" stroke-width="0.25" textLength="43.90" lengthAdjust="spacingAndGlyphs">19,400.0</text>
<text x="961.70" y="142.30" font-size="11.30" fill="#20242f" stroke="#20242f" stroke-width="0.25" textLength="43.90" lengthAdjust="spacingAndGlyphs">19,600.0</text>
<text x="961.70" y="108.00" font-size="11.30" fill="#20242f" stroke="#20242f" stroke-width="0.25" textLength="43.90" lengthAdjust="spacingAndGlyphs">19,800.0</text>
<text x="961.70" y="74.40" font-size="11.30" fill="#20242f" stroke="#20242f" stroke-width="0.25" textLength="43.90" lengthAdjust="spacingAndGlyphs">20,000.0</text>
<text x="961.70" y="40.10" font-size="11.30" fill="#20242f" stroke="#20242f" stroke-width="0.25" textLength="43.90" lengthAdjust="spacingAndGlyphs">20,200.0</text>
<path d="M954.5 258.2 H1008.6 Q1010.3 258.2 1010.3 259.9 V285.9 Q1010.3 287.6 1008.6 287.6 H954.5 Q954 287.6 954 287.1 V258.7 Q954 258.2 954.5 258.2 Z" fill="#089981"/>
<text x="962.80" y="270.00" font-size="11.00" fill="#ffffff" stroke="#ffffff" stroke-width="0.25" textLength="42.80" lengthAdjust="spacingAndGlyphs">18,851.4</text>
<text x="962.00" y="282.60" font-size="11.00" fill="#ffffff" stroke="#ffffff" stroke-width="0.25" textLength="43.60" lengthAdjust="spacingAndGlyphs" fill-opacity="0.8">01:40:52</text>
<rect x="954" y="558.6" width="54.1" height="15.4" rx="1.6" fill="#26A69A"/>
<text x="963.00" y="570.50" font-size="11.00" fill="#ffffff" stroke="#ffffff" stroke-width="0.25" textLength="41.00" lengthAdjust="spacingAndGlyphs">13.247&#8201;K</text>
<text x="10.70" y="600.60" font-size="10.30" fill="#20242f" stroke="#20242f" stroke-width="0.15" textLength="19.40" lengthAdjust="spacingAndGlyphs" font-weight="bold">Aug</text>
<text x="118.52" y="600.60" font-size="10.80" fill="#20242f" stroke="#20242f" stroke-width="0.25" textLength="5.50" lengthAdjust="spacingAndGlyphs">6</text>
<text x="250.13" y="600.60" font-size="10.80" fill="#20242f" stroke="#20242f" stroke-width="0.25" textLength="11.25" lengthAdjust="spacingAndGlyphs">12</text>
<text x="326.31" y="600.60" font-size="10.80" fill="#20242f" stroke="#20242f" stroke-width="0.25" textLength="27.00" lengthAdjust="spacingAndGlyphs">14:00</text>
<text x="418.25" y="600.60" font-size="10.80" fill="#20242f" stroke="#20242f" stroke-width="0.25" textLength="11.25" lengthAdjust="spacingAndGlyphs">19</text>
<text x="494.43" y="600.60" font-size="10.80" fill="#20242f" stroke="#20242f" stroke-width="0.25" textLength="27.00" lengthAdjust="spacingAndGlyphs">14:00</text>
<text x="586.36" y="600.60" font-size="10.80" fill="#20242f" stroke="#20242f" stroke-width="0.25" textLength="11.25" lengthAdjust="spacingAndGlyphs">26</text>
<text x="662.54" y="600.60" font-size="10.80" fill="#20242f" stroke="#20242f" stroke-width="0.25" textLength="27.00" lengthAdjust="spacingAndGlyphs">14:00</text>
<text x="745.36" y="600.60" font-size="10.30" fill="#20242f" stroke="#20242f" stroke-width="0.15" textLength="18.25" lengthAdjust="spacingAndGlyphs" font-weight="bold">Sep</text>
<text x="830.65" y="600.60" font-size="10.80" fill="#20242f" stroke="#20242f" stroke-width="0.25" textLength="27.00" lengthAdjust="spacingAndGlyphs">14:00</text>
<text x="925.45" y="600.60" font-size="10.80" fill="#20242f" stroke="#20242f" stroke-width="0.25" textLength="5.50" lengthAdjust="spacingAndGlyphs">9</text>
<g>
<circle cx="894.2" cy="571.45" r="10.6" fill="#ffffff"/>
<circle cx="894.2" cy="571.45" r="9.1" fill="#ffffff" stroke="#9C27B0" stroke-width="1.5"/>
<path d="M897.2 564.8 L889.2 572.4 L893.0 572.4 L890.4 577.8 L899.0 570.4 L895.0 570.4 Z" fill="#9C27B0"/>
<circle cx="905.4" cy="571.45" r="10.9" fill="#ffffff"/>
<clipPath id="flagc"><circle cx="905.4" cy="571.45" r="7.6"/></clipPath>
<g clip-path="url(#flagc)">
<rect x="897" y="563" width="17" height="17" fill="#ffffff"/>
<rect x="897" y="564.2" width="17" height="2.6" fill="#EF5350"/>
<rect x="897" y="570.5" width="17" height="2.4" fill="#EF5350"/>
<rect x="897" y="575.9" width="17" height="3.0" fill="#EF5350"/>
<rect x="897" y="563.5" width="9.9" height="10.3" fill="#2F8FE8"/>
<g fill="#ffffff" fill-opacity="0.75">
<circle cx="899.5" cy="566.4" r="0.65"/>
<circle cx="899.5" cy="568.9" r="0.65"/>
<circle cx="899.5" cy="571.3" r="0.65"/>
<circle cx="902.3" cy="566.4" r="0.65"/>
<circle cx="902.3" cy="568.9" r="0.65"/>
<circle cx="902.3" cy="571.3" r="0.65"/>
<circle cx="905.1" cy="566.4" r="0.65"/>
<circle cx="905.1" cy="568.9" r="0.65"/>
<circle cx="905.1" cy="571.3" r="0.65"/>
</g>
</g>
<circle cx="905.4" cy="571.45" r="9.35" fill="none" stroke="#F23645" stroke-width="1.8"/>
</g>
<g transform="translate(9.7,619.8) scale(0.51)" fill="#20242f"><rect x="0" y="4" width="14" height="7"/><rect x="7" y="4" width="7" height="18"/><circle cx="20" cy="8" r="4"/><rect x="0" y="-18" width="8" height="18" transform="translate(20,22) skewX(-22.62)"/></g>
<text x="31.50" y="630.60" font-size="11.50" fill="#20242f" stroke="#20242f" stroke-width="0.05" textLength="65.30" lengthAdjust="spacingAndGlyphs">TradingView</text>
</svg>
</body></html>
